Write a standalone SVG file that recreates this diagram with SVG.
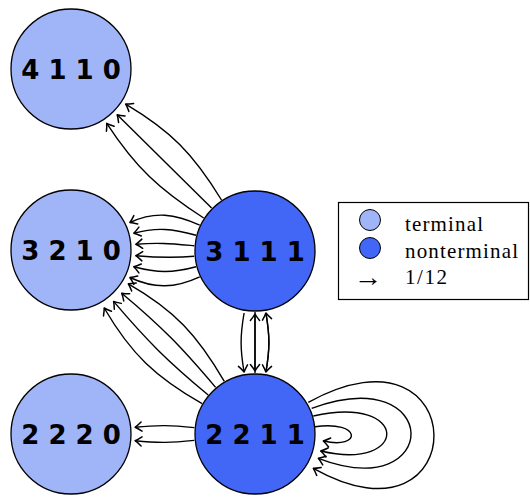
<svg xmlns="http://www.w3.org/2000/svg" width="530" height="498" viewBox="0 0 530 498">
  <style>
    .node circle { stroke: #000; stroke-width: 1.3; }
    .term { fill: #a0b4f8; }
    .nonterm { fill: #4266f5; }
    .lbl { font-family: "DejaVu Sans", sans-serif; font-weight: bold; font-size: 26px; text-anchor: middle; fill: #000; }
    .edge { fill: none; stroke: #000; stroke-width: 1.4; marker-end: url(#tip); }
    .legend text { font-family: "Liberation Serif", "DejaVu Serif", serif; font-size: 21px; fill: #000; }
    .legend text.sym { font-size: 26px; }
  </style>
  <defs>
    <marker id="tip" markerUnits="userSpaceOnUse" viewBox="-8 -6 10 12" refX="0" refY="0" markerWidth="10" markerHeight="12" orient="auto" overflow="visible">
      <path d="M-6.5,-4.6 Q-2.4,-1.3 0,0 Q-2.4,1.3 -6.5,4.6" fill="none" stroke="#000" stroke-width="1.5" stroke-linecap="round" stroke-linejoin="round"/>
    </marker>
  </defs>

  <!-- states -->
  <g id="n4110" class="node">
    <circle class="term" cx="71" cy="69" r="60"/>
    <text class="lbl" x="71" y="79">4 1 1 0</text>
  </g>
  <g id="n3210" class="node">
    <circle class="term" cx="71" cy="250" r="60"/>
    <text class="lbl" x="71" y="260">3 2 1 0</text>
  </g>
  <g id="n2220" class="node">
    <circle class="term" cx="71" cy="434" r="60"/>
    <text class="lbl" x="71" y="444">2 2 2 0</text>
  </g>
  <g id="n3111" class="node">
    <circle class="nonterm" cx="255" cy="251" r="60"/>
    <text class="lbl" x="255" y="261">3 1 1 1</text>
  </g>
  <g id="n2211" class="node">
    <circle class="nonterm" cx="255" cy="434" r="60"/>
    <text class="lbl" x="255" y="444">2 2 1 1</text>
  </g>

  <!-- transitions, each of weight 1/12 -->
  <g id="edges">
    <!-- 3111 -> 4110 -->
    <path class="edge" d="M221.5,200 C193,153 170.4,130.8 125.7,104.1"/>
    <path class="edge" d="M211.6,208.1 L117.2,114.7"/>
    <path class="edge" d="M203.7,218 C159,189.3 135.9,167.7 106.7,123.3"/>
    <!-- 3111 -> 3210 -->
    <path class="edge" d="M199.7,225.2 C175,213.7 154.6,211 129.9,222.5"/>
    <path class="edge" d="M196.1,235.2 C172.6,228.9 157.3,226.9 133.8,233.2"/>
    <path class="edge" d="M194.2,245.7 C171.5,243.7 158.5,242.3 135.8,244.3"/>
    <path class="edge" d="M194.2,256.3 C171.5,258.3 158.5,257.7 135.8,255.7"/>
    <path class="edge" d="M196.1,266.8 C172.6,273.1 157.3,273.1 133.8,266.8"/>
    <path class="edge" d="M199.7,276.8 C175,288.3 154.6,289 129.9,277.5"/>
    <!-- 3111 -> 2211 -->
    <path class="edge" d="M244.1,313 C240.1,335.8 240.1,349.2 244.1,372"/>
    <path class="edge" d="M255,312 L255,371"/>
    <path class="edge" d="M265.9,313 C269.9,335.8 269.9,349.2 265.9,372"/>
    <!-- 2211 -> 3111 -->
    <path class="edge" d="M255,373 L255,314"/>
    <path class="edge" d="M265.9,372 C269.9,349.2 269.9,335.8 265.9,313"/>
    <!-- 2211 -> 3210 -->
    <path class="edge" d="M224.3,381.3 C197.3,335 174.8,310.4 128.3,283.8"/>
    <path class="edge" d="M215.6,387.4 C181.9,347.6 161.7,326.5 121.7,293.2"/>
    <path class="edge" d="M208.2,395 C168.2,361.7 147.3,341.2 113.6,301.4"/>
    <path class="edge" d="M202.1,403.7 C155.6,377.1 131.2,354.3 104.2,308"/>
    <!-- 2211 -> 2220 -->
    <path class="edge" d="M194.3,427.6 C171.2,425.2 158.2,424.9 135.1,427.3"/>
    <path class="edge" d="M194.3,440.4 C171.2,442.8 158.2,443.1 135.1,440.7"/>
    <!-- 2211 -> 2211 -->
    <path class="edge" d="M315,426.7 C362,420 362,450 323.3,441"/>
    <path class="edge" d="M313.3,416 C410,394 410,472 320.7,451"/>
    <path class="edge" d="M311.7,408.3 C443,360 443,506 318.3,458.3"/>
    <path class="edge" d="M308.3,402.3 C475,311 475,558.8 313.3,468.3"/>
  </g>

  <!-- legend -->
  <g id="legend" class="legend">
    <rect x="338.5" y="202.5" width="190" height="97" fill="#fff" stroke="#000" stroke-width="1.2"/>
    <circle cx="370" cy="220" r="10.5" fill="#a0b4f8" stroke="#000" stroke-width="1"/>
    <circle cx="370" cy="248" r="10.5" fill="#4266f5" stroke="#000" stroke-width="1"/>
    <text class="sym" transform="translate(354,286) scale(1.1,1)">→</text>
    <text x="405" y="231" textLength="78">terminal</text>
    <text x="405" y="258" textLength="113">nonterminal</text>
    <text x="405" y="284" textLength="42">1/12</text>
  </g>
</svg>
